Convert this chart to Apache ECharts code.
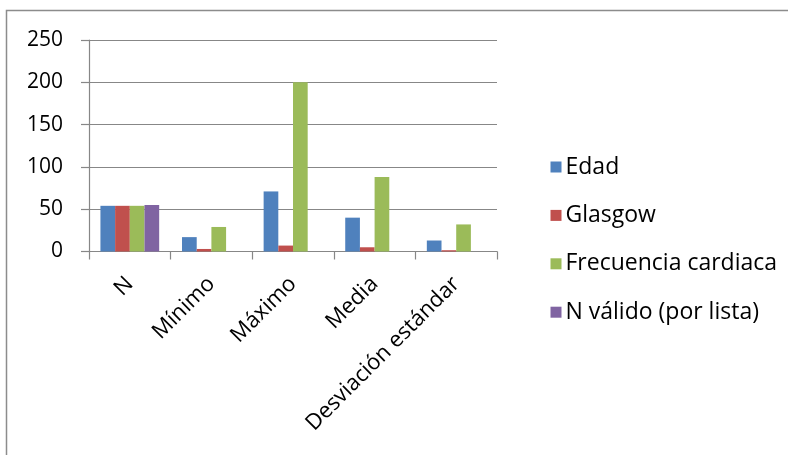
<!DOCTYPE html>
<html>
<head>
<meta charset="utf-8">
<script src="https://cdn.jsdelivr.net/npm/echarts@6/dist/echarts.min.js"></script>
<style>
  html, body { margin: 0; padding: 0; background: #fff; }
  #chart { width: 788px; height: 455px; }
</style>
</head>
<body>
<div id="chart"></div>
<script>
// Categories (statistics) and values per variable
const categorias = ['N', 'Mínimo', 'Máximo', 'Media', 'Desviación estándar'];
const edad = [54, 17, 71, 40, 13];
const glasgow = [54, 3, 7, 5, 1.5];
const frecuencia = [54, 29, 200, 88, 32];
const nValido = [55, null, null, null, null];
const ejeY = { min: 0, max: 250, interval: 50 };

const font = '"Open Sans", Lato, sans-serif';
const gris = '#878787';

const chart = echarts.init(document.getElementById('chart'), null, { renderer: 'canvas' });

function serie(nombre, datos, color) {
  return {
    name: nombre,
    type: 'bar',
    data: datos,
    barGap: '0%',
    barCategoryGap: '28%',
    itemStyle: { color: color },
    animation: false
  };
}

chart.setOption({
  animation: false,
  textStyle: { fontFamily: font },
  graphic: [{
    type: 'rect',
    shape: { x: 6.5, y: 10.5, width: 900, height: 600 },
    style: { fill: 'none', stroke: '#8c8c8c', lineWidth: 1.5 },
    silent: true
  }],
  grid: { left: 89, top: 40, width: 408, height: 211.5, containLabel: false },
  legend: {
    orient: 'vertical',
    left: 545.5,
    top: 150,
    itemWidth: 11,
    itemHeight: 11,
    itemGap: 24.4,
    icon: 'rect',
    textStyle: { fontFamily: font, fontSize: 23, color: '#000', lineHeight: 24, padding: [0, 0, 0, -1] },
    data: ['Edad', 'Glasgow', 'Frecuencia cardiaca', 'N válido (por lista)']
  },
  xAxis: {
    type: 'category',
    data: categorias,
    axisLine: { lineStyle: { color: gris, width: 1.2 } },
    axisTick: { show: true, length: 8, alignWithLabel: false, lineStyle: { color: gris, width: 1.2 } },
    axisLabel: { rotate: 45, fontSize: 22, color: '#000', fontFamily: font, margin: 29, interval: 0 }
  },
  yAxis: {
    type: 'value',
    min: ejeY.min,
    max: ejeY.max,
    interval: ejeY.interval,
    axisLine: { show: true, lineStyle: { color: gris, width: 1.2 } },
    axisTick: { show: true, length: 8, lineStyle: { color: gris, width: 1.2 } },
    axisLabel: { fontSize: 21, color: '#000', fontFamily: font, margin: 26 },
    splitLine: { show: true, lineStyle: { color: gris, width: 1.2 } }
  },
  series: [
    serie('Edad', edad, '#4F81BD'),
    serie('Glasgow', glasgow, '#C0504D'),
    serie('Frecuencia cardiaca', frecuencia, '#9BBB59'),
    serie('N válido (por lista)', nValido, '#8064A2')
  ]
});
</script>
</body>
</html>
